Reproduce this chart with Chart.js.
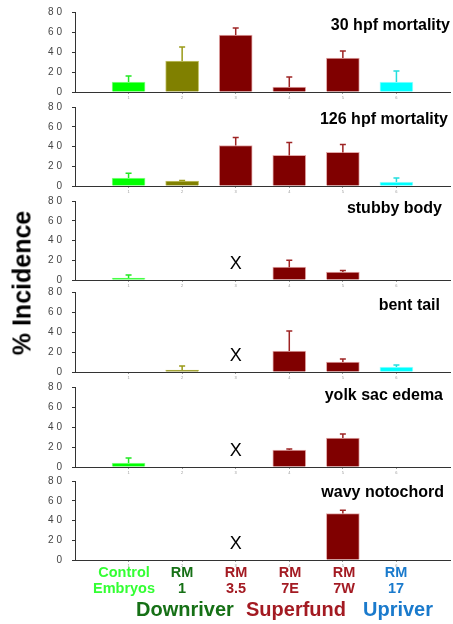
<!DOCTYPE html>
<html>
<head>
<meta charset="utf-8">
<script src="https://cdn.jsdelivr.net/npm/chart.js@4"></script>
<style>
  body { margin: 0; background: #fff; font-family: 'Liberation Sans', Arial, sans-serif; }
  #wrap { position: relative; width: 453px; height: 624px; overflow: hidden; }
  canvas { position: absolute; left: 0; }
  .lbl { position: absolute; transform: translate(-50%, -50%); font-weight: bold; white-space: nowrap; line-height: 1; }
  .ttl { position: absolute; font-weight: bold; font-size: 16px; white-space: nowrap; transform: translateY(-50%); line-height: 1; }
</style>
</head>
<body>
<div id="wrap"></div>
<script>
// categories on the x axis
const categories = ['Control Embryos', 'RM 1', 'RM 3.5', 'RM 7E', 'RM 7W', 'RM 17'];
const yTicks = [0, 20, 40, 60, 80];

// % incidence per panel (null = not assessed, marked with X)
const mort30 = [10, 31, 57, 5, 34, 10];
const mort30Sd = [6, 14, 7, 10, 7, 11];
const mort126 = [8, 5, 41, 31, 34, 4];
const mort126Sd = [5, 0.5, 8, 13, 8, 4];
const stubby = [2, 0, null, 13, 8, 0];
const stubbySd = [3, 0, 0, 7, 1.5, 0];
const bentTail = [0, 2, null, 21, 10, 5];
const bentTailSd = [0, 4, 0, 20, 3, 2];
const yolkSac = [4, 0, null, 17, 29, 0];
const yolkSacSd = [5, 0, 0, 1, 4, 0];
const wavy = [0, 0, null, 0, 47, 0];
const wavySd = [0, 0, 0, 0, 3.5, 0];
const xMarkValue = 16;

const barColors = ['#00ff00', '#808000', '#800000', '#800000', '#800000', '#00ffff'];
const barEdges = ['#8cff8c', '#c4c46a', '#e2aaaa', '#e2aaaa', '#e2aaaa', '#9cffff'];
const errColors = ['#22e822', '#9a9a18', '#9e2424', '#9e2424', '#9e2424', '#22dede'];

const panels = [
    { title: '30 hpf mortality', values: mort30, sd: mort30Sd, top: 12, zero: 92, titleY: 25, titleRight: 3 },
    { title: '126 hpf mortality', values: mort126, sd: mort126Sd, top: 107, zero: 186, titleY: 119, titleRight: 5 },
    { title: 'stubby body', values: stubby, sd: stubbySd, top: 201, zero: 280, titleY: 208, titleRight: 11 },
    { title: 'bent tail', values: bentTail, sd: bentTailSd, top: 292, zero: 372, titleY: 305, titleRight: 13 },
    { title: 'yolk sac edema', values: yolkSac, sd: yolkSacSd, top: 387, zero: 467, titleY: 395, titleRight: 10 },
    { title: 'wavy notochord', values: wavy, sd: wavySd, top: 481, zero: 560, titleY: 492, titleRight: 9 }
];

const wrap = document.getElementById('wrap');

function makePanel(p) {
    const canvas = document.createElement('canvas');
    const h0 = (p.zero - p.top) + 30;
    canvas.width = 453;
    canvas.height = h0;
    canvas.style.width = '453px';
    canvas.style.height = h0 + 'px';
    wrap.appendChild(canvas);

    // upper error bars and the X for missing groups
    const extras = {
        id: 'extras',
        afterDatasetsDraw(chart) {
            const ctx = chart.ctx;
            const xs = chart.scales.x, ys = chart.scales.y;
            ctx.save();
            p.values.forEach((v, i) => {
                const px = xs.getPixelForValue(i + 1);
                if (v === null) {
                    ctx.fillStyle = '#000';
                    ctx.font = '18px "Liberation Sans", Arial, sans-serif';
                    ctx.textAlign = 'center';
                    ctx.textBaseline = 'middle';
                    ctx.fillText('X', px, ys.getPixelForValue(xMarkValue));
                    return;
                }
                if (!p.sd[i]) return;
                const y0 = ys.getPixelForValue(v);
                const y1 = ys.getPixelForValue(v + p.sd[i]);
                ctx.strokeStyle = errColors[i];
                ctx.lineWidth = 1.5;
                ctx.beginPath();
                ctx.moveTo(px, y0);
                ctx.lineTo(px, y1);
                ctx.moveTo(px - 3, y1);
                ctx.lineTo(px + 3, y1);
                ctx.stroke();
            });
            ctx.restore();
        }
    };

    const chart = new Chart(canvas, {
        type: 'bar',
        data: {
            datasets: [{
                data: p.values.map((v, i) => ({ x: i + 1, y: v })),
                backgroundColor: barColors,
                borderColor: barEdges,
                borderWidth: 1,
                borderSkipped: 'bottom',
                barThickness: 33
            }]
        },
        options: {
            responsive: false,
            maintainAspectRatio: false,
            animation: false,
            layout: { padding: { top: 4, right: 3, left: 0, bottom: 0 } },
            plugins: { legend: { display: false }, tooltip: { enabled: false } },
            scales: {
                x: {
                    type: 'linear',
                    min: 0,
                    max: 7,
                    offset: false,
                    afterBuildTicks(scale) {
                        scale.ticks = categories.map((c, i) => ({ value: i + 1 }));
                    },
                    grid: { drawOnChartArea: false, offset: false, tickLength: 2, color: '#999' },
                    border: { display: true, color: '#333', width: 1 },
                    ticks: {
                        autoSkip: false,
                        maxRotation: 0,
                        padding: 1,
                        color: '#999',
                        font: { size: 4, family: 'Liberation Sans' },
                        callback: v => String(v)
                    }
                },
                y: {
                    min: 0,
                    max: 80,
                    afterBuildTicks(scale) {
                        scale.ticks = yTicks.map(v => ({ value: v }));
                    },
                    afterFit(scale) { scale.width = 75; },
                    grid: { drawOnChartArea: false, tickLength: 3, color: '#333' },
                    border: { display: true, color: '#333', width: 1 },
                    ticks: {
                        padding: 10,
                        color: '#444',
                        font: { size: 10, family: 'Liberation Sans' },
                        callback: v => String(v).split('').join(' ')
                    }
                }
            }
        },
        plugins: [extras]
    });

    // fit the canvas so the plot area lands where the reference has it
    const want = p.zero - p.top;
    const got = chart.chartArea.bottom - chart.chartArea.top;
    const h1 = h0 + (want - got);
    chart.resize(453, h1);
    canvas.style.top = (p.top - chart.chartArea.top) + 'px';

    const t = document.createElement('div');
    t.className = 'ttl';
    t.textContent = p.title;
    t.style.right = p.titleRight + 'px';
    t.style.top = p.titleY + 'px';
    wrap.appendChild(t);
}

panels.forEach(makePanel);

function addLabel(text, x, y, size, color) {
    const d = document.createElement('div');
    d.className = 'lbl';
    d.textContent = text;
    d.style.left = x + 'px';
    d.style.top = y + 'px';
    d.style.fontSize = size + 'px';
    d.style.color = color;
    wrap.appendChild(d);
}

// y axis title
const yTitle = document.createElement('div');
yTitle.className = 'lbl';
yTitle.textContent = '% Incidence';
yTitle.style.left = '22px';
yTitle.style.top = '283px';
yTitle.style.fontSize = '25px';
yTitle.style.color = '#000';
yTitle.style.transform = 'translate(-50%, -50%) rotate(-90deg)';
wrap.appendChild(yTitle);

// category labels under the last panel
const green = '#33ff33', dkGreen = '#167016', red = '#a31a22', blue = '#1a7acc';
addLabel('Control', 124, 572, 14.5, green);
addLabel('Embryos', 124, 588, 14.5, green);
addLabel('RM', 182, 572, 14.5, dkGreen);
addLabel('1', 182, 588, 14.5, dkGreen);
addLabel('RM', 236, 572, 14.5, red);
addLabel('3.5', 236, 588, 14.5, red);
addLabel('RM', 290, 572, 14.5, red);
addLabel('7E', 290, 588, 14.5, red);
addLabel('RM', 344, 572, 14.5, red);
addLabel('7W', 344, 588, 14.5, red);
addLabel('RM', 396, 572, 14.5, blue);
addLabel('17', 396, 588, 14.5, blue);
addLabel('Downriver', 185, 609, 20, dkGreen);
addLabel('Superfund', 296, 609, 20, red);
addLabel('Upriver', 398, 609, 20, blue);
</script>
</body>
</html>
